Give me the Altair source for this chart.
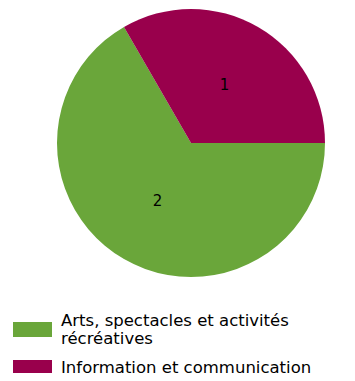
import math
import altair as alt
import pandas as pd

categories = ["Arts, spectacles et activités récréatives", "Information et communication"]
values = [2, 1]
order = [1, 0]
colors = ["#6aa63a", "#99004c"]

df = pd.DataFrame({"cat": categories, "value": values, "ord": order})

theta = alt.Theta("value:Q", stack=True,
                  scale=alt.Scale(range=[-math.pi / 6, 2 * math.pi - math.pi / 6]))
color = alt.Color(
    "cat:N",
    scale=alt.Scale(domain=categories, range=colors),
    legend=alt.Legend(
        title=None,
        orient="none",
        legendX=5,
        legendY=302,
        symbolType="M-1,-0.385L1,-0.385L1,0.385L-1,0.385Z",
        symbolSize=1521,
        symbolStrokeWidth=0,
        symbolOpacity=1,
        labelFont="DejaVu Sans",
        labelFontSize=16.5,
        labelColor="#000000",
        labelOffset=9,
        labelLimit=400,
        labelExpr="datum.label == 'Arts, spectacles et activités récréatives' ? ['Arts, spectacles et activités', 'récréatives'] : datum.label",
        labelBaseline={"expr": "datum.label == 'Information et communication' ? 'middle' : 'line-bottom'"},
        rowPadding=0,
    ),
)

base = alt.Chart(df).encode(
    theta=theta,
    order=alt.Order("ord:Q"),
    x=alt.value(183),
    y=alt.value(135),
)

pie = base.mark_arc(outerRadius=134, stroke=None).encode(color=color)
labels = base.mark_text(radius=67, font="DejaVu Sans", fontSize=15, color="#000000").encode(
    text=alt.Text("value:Q")
)

chart = (
    alt.layer(pie, labels)
    .properties(width=339, height=365, padding=0, autosize=alt.AutoSizeParams(type="none"))
    .configure_view(stroke=None)
)

chart.save("out.html", embed_options={"renderer": "svg", "actions": False})
